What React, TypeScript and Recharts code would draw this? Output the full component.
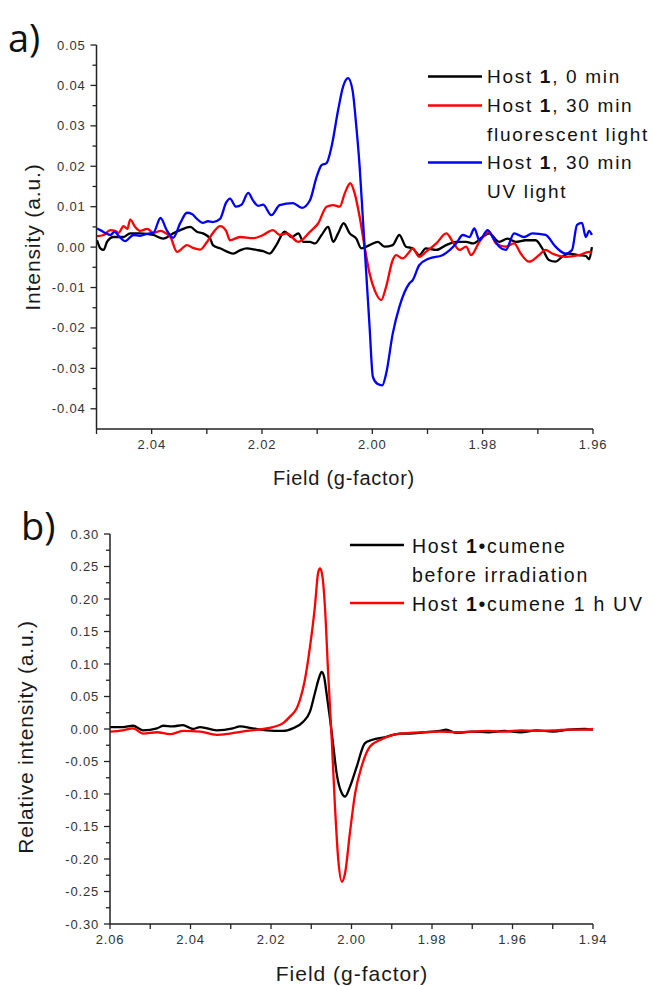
import React from 'react';
import { LineChart, Line, XAxis, YAxis } from 'recharts';

// ---- panel a) tick values ----
const fieldTicksA = [2.05, 2.04, 2.03, 2.02, 2.01, 2.0, 1.99, 1.98, 1.97, 1.96];
const intensityTicksA = [
  -0.04, -0.035, -0.03, -0.025, -0.02, -0.015, -0.01, -0.005, 0, 0.005, 0.01, 0.015, 0.02, 0.025, 0.03,
  0.035, 0.04, 0.045, 0.05,
];

// ---- panel b) tick values ----
const fieldTicksB = [2.06, 2.05, 2.04, 2.03, 2.02, 2.01, 2.0, 1.99, 1.98, 1.97, 1.96, 1.95, 1.94];
const intensityTicksB = [
  -0.3, -0.275, -0.25, -0.225, -0.2, -0.175, -0.15, -0.125, -0.1, -0.075, -0.05, -0.025, 0, 0.025, 0.05,
  0.075, 0.1, 0.125, 0.15, 0.175, 0.2, 0.225, 0.25, 0.275, 0.3,
];

// ---- panel a) series: [g-factor, intensity] ----
const host0min: [number, number][] = [
  [2.0499, 0.0017], [2.0493, -0.0003], [2.0487, -0.0007], [2.0481, 0.0013], [2.0469, 0.0025],
  [2.0451, 0.0025], [2.0439, 0.0034], [2.0421, 0.0034], [2.0397, 0.003], [2.0379, 0.0021],
  [2.0361, 0.0034], [2.0348, 0.0042], [2.033, 0.005], [2.0318, 0.0038], [2.0307, 0.0034],
  [2.0294, 0.0021], [2.0289, 0.0005], [2.0276, -0.0003], [2.0252, -0.0016], [2.024, -0.0008],
  [2.0228, -0.0003], [2.021, -0.0007], [2.0198, -0.001], [2.0186, -0.0016], [2.0174, 0.0005],
  [2.0159, 0.0038], [2.0146, 0.0025], [2.0134, 0.0034], [2.0125, 0.0013], [2.0113, 0.0013],
  [2.0104, 0.0009], [2.0092, 0.003], [2.008, 0.005], [2.0071, 0.0013], [2.0062, 0.0034],
  [2.0052, 0.0059], [2.0041, 0.0034], [2.0029, 0.0021], [2.002, -0.0003], [2.0005, 0.0005],
  [1.999, 0.0013], [1.9978, 0.0001], [1.9963, 0.0005], [1.9951, 0.003], [1.9939, 0.0001],
  [1.9927, -0.0003], [1.9915, -0.002], [1.9903, -0.0003], [1.9884, -0.0007], [1.9866, 0.0005],
  [1.9848, 0.0013], [1.983, 0.0013], [1.9818, 0.0009], [1.98, 0.0025], [1.9788, 0.0034],
  [1.977, 0.0013], [1.9755, 0.0021], [1.974, 0.0013], [1.9722, 0.0017], [1.9704, 0.0017],
  [1.9692, -0.0003], [1.968, -0.0032], [1.9668, -0.0036], [1.9656, -0.0024], [1.9644, -0.0016],
  [1.9626, -0.002], [1.9613, -0.0022], [1.9607, -0.003], [1.9602, 0.0],
];

const host30minFluo: [number, number][] = [
  [2.0499, 0.0027], [2.0487, 0.003], [2.0475, 0.0042], [2.0466, 0.004], [2.046, 0.0035],
  [2.0451, 0.0052], [2.0444, 0.0045], [2.0439, 0.0068], [2.043, 0.005], [2.0421, 0.004],
  [2.0408, 0.0045], [2.0397, 0.0035], [2.0384, 0.004], [2.0375, 0.0035], [2.0366, 0.0025],
  [2.0354, -0.0012], [2.0336, 0.0005], [2.0325, -0.0002], [2.0312, -0.0006], [2.0301, 0.001],
  [2.0289, 0.0035], [2.0276, 0.0052], [2.0265, 0.004], [2.0258, 0.0017], [2.024, 0.0025],
  [2.0216, 0.0022], [2.0198, 0.003], [2.018, 0.0042], [2.0168, 0.003], [2.0155, 0.0034],
  [2.0134, 0.0013], [2.0113, 0.0038], [2.0098, 0.0059], [2.0083, 0.01], [2.0071, 0.0104],
  [2.0059, 0.01], [2.005, 0.0133], [2.004, 0.0158], [2.0032, 0.0133], [2.0023, 0.0075],
  [2.0014, 0.0001], [2.0005, -0.0065], [1.9996, -0.0106], [1.9984, -0.0131], [1.9975, -0.0098],
  [1.9963, -0.0032], [1.9957, -0.002], [1.9945, -0.0028], [1.9933, -0.0012], [1.9927, -0.0003],
  [1.9915, -0.0024], [1.9903, -0.0012], [1.9884, 0.0009], [1.9866, 0.0034], [1.9854, 0.0013],
  [1.9842, -0.0007], [1.983, 0.0001], [1.9821, -0.002], [1.9806, 0.0013], [1.9788, 0.0038],
  [1.9776, 0.0009], [1.9758, 0.0001], [1.9743, 0.0009], [1.9731, -0.0016], [1.9716, -0.0036],
  [1.9698, -0.002], [1.9686, -0.0007], [1.9674, -0.0016], [1.965, -0.0024], [1.9626, -0.002],
  [1.9607, -0.0012], [1.9602, -0.0015],
];

const host30minUV: [number, number][] = [
  [2.0499, 0.0046], [2.0493, 0.0042], [2.0484, 0.0035], [2.0475, 0.003], [2.0467, 0.0038],
  [2.046, 0.0028], [2.0448, 0.0015], [2.0433, 0.003], [2.0421, 0.0028], [2.0408, 0.0033],
  [2.0397, 0.0035], [2.0384, 0.0072], [2.0372, 0.004], [2.0361, 0.0023], [2.0348, 0.006],
  [2.0336, 0.0085], [2.0327, 0.0082], [2.0318, 0.007], [2.0307, 0.006], [2.0298, 0.0064],
  [2.0289, 0.0062], [2.0276, 0.007], [2.0265, 0.011], [2.0258, 0.012], [2.0247, 0.01],
  [2.0237, 0.0105], [2.0225, 0.0134], [2.0216, 0.0115], [2.0207, 0.0102], [2.0198, 0.0105],
  [2.0183, 0.0079], [2.0168, 0.0104], [2.0144, 0.0109], [2.0128, 0.0097], [2.0113, 0.0116],
  [2.0101, 0.0174], [2.0092, 0.0203], [2.0083, 0.0208], [2.0074, 0.0248], [2.0062, 0.0339],
  [2.0053, 0.0397], [2.0044, 0.0418], [2.0036, 0.0389], [2.0029, 0.0298], [2.0023, 0.0199],
  [2.0017, 0.0067], [2.0011, -0.0065], [2.0005, -0.0197], [1.9999, -0.0321], [1.9991, -0.0338],
  [1.9982, -0.0342], [1.9975, -0.0313], [1.9963, -0.0214], [1.9951, -0.0148], [1.9933, -0.009],
  [1.9927, -0.0082], [1.9915, -0.0045], [1.9897, -0.0028], [1.9873, -0.002], [1.9848, 0.0009],
  [1.9836, 0.003], [1.9824, 0.0025], [1.9815, 0.0046], [1.9806, 0.0017], [1.9791, 0.0042],
  [1.9782, 0.0025], [1.977, 0.0001], [1.9758, -0.0007], [1.9743, 0.0034], [1.9725, 0.0025],
  [1.971, 0.0034], [1.9686, 0.003], [1.9668, 0.0001], [1.965, -0.0016], [1.9638, -0.0007],
  [1.9629, 0.0055], [1.962, 0.006], [1.9613, 0.0025], [1.9607, 0.004], [1.9602, 0.003],
];

// ---- panel b) series ----
const cumeneBefore: [number, number][] = [
  [2.06, 0.003], [2.0568, 0.003], [2.0543, 0.005], [2.0518, -0.002], [2.0483, 0.001],
  [2.0468, 0.005], [2.0445, 0.004], [2.0419, 0.006], [2.0394, 0.0], [2.0376, 0.003],
  [2.0335, -0.002], [2.0295, 0.001], [2.0277, 0.004], [2.0245, 0.001], [2.0211, -0.002],
  [2.017, -0.003], [2.0146, 0.001], [2.012, 0.011], [2.0103, 0.027], [2.0091, 0.055],
  [2.008, 0.08], [2.0074, 0.088], [2.0068, 0.08], [2.0062, 0.055], [2.0053, 0.014],
  [2.0045, -0.027], [2.0037, -0.068], [2.0024, -0.099], [2.0016, -0.104], [2.0004, -0.089],
  [1.9987, -0.058], [1.9967, -0.022], [1.995, -0.017], [1.9913, -0.012], [1.988, -0.007],
  [1.9855, -0.007], [1.982, -0.005], [1.978, -0.003], [1.9765, -0.001], [1.974, -0.006],
  [1.97, -0.004], [1.966, -0.005], [1.962, -0.003], [1.958, -0.005], [1.954, -0.002],
  [1.95, -0.004], [1.946, -0.001], [1.942, 0.0], [1.94, -0.001],
];

const cumeneUV1h: [number, number][] = [
  [2.06, -0.004], [2.0568, -0.002], [2.0543, 0.001], [2.0518, -0.007], [2.0483, -0.005],
  [2.0451, -0.008], [2.0419, -0.003], [2.0376, -0.004], [2.0335, -0.009], [2.0302, -0.007],
  [2.026, -0.003], [2.0219, 0.0], [2.0195, 0.003], [2.017, 0.009], [2.0153, 0.019],
  [2.0136, 0.032], [2.0128, 0.045], [2.0116, 0.075], [2.0103, 0.127], [2.0091, 0.188],
  [2.0083, 0.24], [2.0078, 0.247], [2.0072, 0.234], [2.0066, 0.188], [2.0058, 0.086],
  [2.0049, -0.017], [2.0041, -0.12], [2.0033, -0.2], [2.0024, -0.235], [2.0016, -0.222],
  [2.0004, -0.16], [1.9991, -0.099], [1.9975, -0.058], [1.9954, -0.027], [1.9929, -0.017],
  [1.9896, -0.009], [1.9855, -0.006], [1.982, -0.005], [1.978, -0.004], [1.974, -0.005],
  [1.97, -0.004], [1.966, -0.003], [1.962, -0.004], [1.958, -0.002], [1.954, -0.003],
  [1.95, -0.002], [1.946, -0.001], [1.942, -0.001], [1.94, 0.0],
];

const rows = (pts: [number, number][]) => pts.map(([g, v]) => ({ g, v }));

const FONT = '"Liberation Sans", Arial, sans-serif';
const AXIS = '#222';
const TICK_TEXT = '#333';

const makeXTick = (isMajor: (v: number) => boolean) => (props: any) => {
  const { x, y, payload } = props;
  const v = payload.value as number;
  return (
    <g>
      <line x1={x} x2={x} y1={y} y2={y + 5} stroke={AXIS} strokeWidth={1.3} />
      {isMajor(v) && (
        <text x={x} y={y + 20} textAnchor="middle" fontSize={13} letterSpacing={0.8} fill={TICK_TEXT} fontFamily={FONT}>
          {v.toFixed(2)}
        </text>
      )}
    </g>
  );
};

const makeYTick = (isMajor: (v: number) => boolean) => (props: any) => {
  const { x, y, payload } = props;
  const v = payload.value as number;
  const major = isMajor(v);
  return (
    <g>
      <line x1={x} x2={x - (major ? 6 : 4)} y1={y} y2={y} stroke={AXIS} strokeWidth={1.3} />
      {major && (
        <text x={x - 11} y={y + 4.5} textAnchor="end" fontSize={13} letterSpacing={0.8} fill={TICK_TEXT} fontFamily={FONT}>
          {(Math.abs(v) < 1e-9 ? 0 : v).toFixed(2)}
        </text>
      )}
    </g>
  );
};

const xMajorA = (v: number) => Math.round(v * 100) % 2 === 0;
const yMajorA = (v: number) => Math.round(v * 1000) % 10 === 0;
const xMajorB = (v: number) => Math.round(v * 100) % 2 === 0;
const yMajorB = (v: number) => Math.round(v * 1000) % 50 === 0;

const lineProps = { type: 'monotone' as const, dataKey: 'v', dot: false, strokeWidth: 2.3, isAnimationActive: false };

const legendText = { fontFamily: FONT, fill: '#111' };

export default function App() {
  return (
    <div style={{ position: 'absolute', left: 0, top: 0, width: 654, height: 986, background: '#fff' }}>
      {/* panel a */}
      <div style={{ position: 'absolute', left: 0, top: 0 }}>
        <LineChart width={654} height={500} margin={{ top: 45, right: 61, bottom: 51, left: 46.5 }}>
          <XAxis
            dataKey="g"
            type="number"
            domain={[1.96, 2.05]}
            reversed
            allowDataOverflow
            ticks={fieldTicksA}
            interval={0}
            height={20}
            tickSize={0}
            tickMargin={0}
            tickLine={false}
            axisLine={{ stroke: AXIS, strokeWidth: 1.5 }}
            tick={makeXTick(xMajorA)}
          />
          <YAxis
            type="number"
            domain={[-0.045, 0.05]}
            allowDataOverflow
            ticks={intensityTicksA}
            interval={0}
            width={50}
            tickSize={0}
            tickMargin={0}
            tickLine={false}
            axisLine={{ stroke: AXIS, strokeWidth: 1.5 }}
            tick={makeYTick(yMajorA)}
          />
          <Line {...lineProps} data={rows(host0min)} name="0 min" stroke="#000000" />
          <Line {...lineProps} data={rows(host30minFluo)} name="30 min fluorescent" stroke="#ff0000" />
          <Line {...lineProps} data={rows(host30minUV)} name="30 min UV" stroke="#0000ff" />
        </LineChart>
      </div>

      {/* panel b */}
      <div style={{ position: 'absolute', left: 0, top: 500 }}>
        <LineChart width={654} height={486} margin={{ top: 34, right: 61, bottom: 42, left: 60 }}>
          <XAxis
            dataKey="g"
            type="number"
            domain={[1.94, 2.06]}
            reversed
            allowDataOverflow
            ticks={fieldTicksB}
            interval={0}
            height={20}
            tickSize={0}
            tickMargin={0}
            tickLine={false}
            axisLine={{ stroke: AXIS, strokeWidth: 1.5 }}
            tick={makeXTick(xMajorB)}
          />
          <YAxis
            type="number"
            domain={[-0.3, 0.3]}
            allowDataOverflow
            ticks={intensityTicksB}
            interval={0}
            width={50}
            tickSize={0}
            tickMargin={0}
            tickLine={false}
            axisLine={{ stroke: AXIS, strokeWidth: 1.5 }}
            tick={makeYTick(yMajorB)}
          />
          <Line {...lineProps} data={rows(cumeneBefore)} name="before irradiation" stroke="#000000" />
          <Line {...lineProps} data={rows(cumeneUV1h)} name="1 h UV" stroke="#ff0000" />
        </LineChart>
      </div>

      {/* labels and legends */}
      <svg width={654} height={986} style={{ position: 'absolute', left: 0, top: 0, pointerEvents: 'none' }}>
        <text x={8} y={52} fontSize={38} fontFamily='"Open Sans", sans-serif' fill="#111">a)</text>
        <text x={21} y={540} fontSize={38} fontFamily='"Open Sans", sans-serif' fill="#111">b)</text>

        <text transform="translate(40,237) rotate(-90)" textAnchor="middle" fontSize={21} letterSpacing={0.9} fontFamily={FONT} fill="#1a1a1a">
          Intensity (a.u.)
        </text>
        <text x={344} y={485} textAnchor="middle" fontSize={20} letterSpacing={0.75} fontFamily={FONT} fill="#1a1a1a">
          Field (g-factor)
        </text>
        <text transform="translate(33,737) rotate(-90)" textAnchor="middle" fontSize={21} letterSpacing={0.8} fontFamily={FONT} fill="#1a1a1a">
          Relative intensity (a.u.)
        </text>
        <text x={352} y={981} textAnchor="middle" fontSize={21} letterSpacing={1} fontFamily={FONT} fill="#1a1a1a">
          Field (g-factor)
        </text>

        {/* legend a */}
        <g fontSize={19} letterSpacing={1.7} {...legendText}>
          <line x1={428} x2={482} y1={76.5} y2={76.5} stroke="#000" strokeWidth={2.3} />
          <text x={487} y={83}>Host <tspan fontWeight="bold">1</tspan>, 0 min</text>
          <line x1={428} x2={482} y1={105.5} y2={105.5} stroke="#ff0000" strokeWidth={2.3} />
          <text x={487} y={112}>Host <tspan fontWeight="bold">1</tspan>, 30 min</text>
          <text x={487} y={141}>fluorescent light</text>
          <line x1={428} x2={482} y1={162.5} y2={162.5} stroke="#0000ff" strokeWidth={2.3} />
          <text x={487} y={169}>Host <tspan fontWeight="bold">1</tspan>, 30 min</text>
          <text x={487} y={198}>UV light</text>
        </g>

        {/* legend b */}
        <g fontSize={19.5} letterSpacing={1.7} {...legendText}>
          <line x1={350} x2={404} y1={545} y2={545} stroke="#000" strokeWidth={2.3} />
          <text x={412} y={553}>Host <tspan fontWeight="bold">1</tspan>•cumene</text>
          <text x={412} y={582}>before irradiation</text>
          <line x1={350} x2={404} y1={603} y2={603} stroke="#ff0000" strokeWidth={2.3} />
          <text x={412} y={611}>Host <tspan fontWeight="bold">1</tspan>•cumene 1 h UV</text>
        </g>
      </svg>
    </div>
  );
}
